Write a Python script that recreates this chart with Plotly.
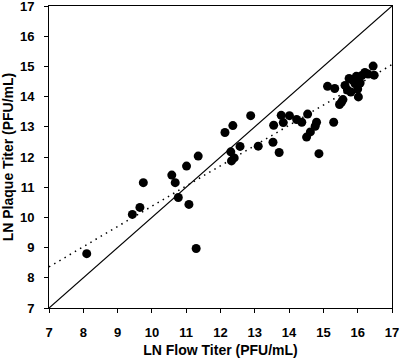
import plotly.graph_objects as go

# Data
flow_titer = [8.10, 9.43, 9.65, 9.75, 10.58, 10.68, 10.77, 11.08, 11.01, 11.35, 11.29,
              12.13, 12.36, 12.88, 12.30, 12.57, 12.32, 12.40, 13.10, 13.55, 13.53, 13.71,
              13.77, 13.83, 14.01, 14.22, 14.37, 14.54, 14.51, 14.62, 14.80, 14.76, 14.87,
              15.30, 15.12, 15.33, 15.47, 15.57, 15.53, 15.63, 15.70, 15.80, 16.02, 15.85,
              15.96, 16.12, 16.21, 16.45, 16.48, 16.07, 15.92, 15.75, 16.30, 16.00]
plaque_titer = [8.80, 10.10, 10.33, 11.15, 11.40, 11.15, 10.66, 10.43, 11.70, 12.03, 8.97,
                12.81, 13.04, 13.37, 12.17, 12.35, 11.87, 11.97, 12.36, 13.05, 12.49, 12.15,
                13.38, 13.14, 13.37, 13.24, 13.15, 13.42, 12.66, 12.83, 13.15, 13.02, 12.11,
                13.15, 14.34, 14.27, 13.74, 13.90, 13.82, 14.37, 14.22, 14.15, 13.99, 14.55,
                14.67, 14.70, 14.80, 15.01, 14.71, 14.45, 14.43, 14.60, 14.75, 14.25]

axis_range = [7, 17]
tick_values = [7, 8, 9, 10, 11, 12, 13, 14, 15, 16, 17]
fit_slope = 0.67
fit_intercept = 3.67

x_title = "LN Flow Titer (PFU/mL)"
y_title = "LN Plaque Titer (PFU/mL)"

fit_x = axis_range
fit_y = [fit_slope * v + fit_intercept for v in fit_x]

fig = go.Figure()
fig.add_trace(go.Scatter(x=axis_range, y=axis_range, mode="lines",
                         line=dict(color="black", width=1.2), showlegend=False,
                         hoverinfo="skip"))
fig.add_trace(go.Scatter(x=fit_x, y=fit_y, mode="lines",
                         line=dict(color="black", width=1.5, dash="1.5px,4.5px"),
                         showlegend=False, hoverinfo="skip"))
fig.add_trace(go.Scatter(x=flow_titer, y=plaque_titer, mode="markers",
                         marker=dict(color="black", size=9, line=dict(width=0)),
                         showlegend=False))

font_family = "Liberation Sans, Arial, sans-serif"
axis_common = dict(
    range=axis_range, tickvals=tick_values, showgrid=False, zeroline=False,
    showline=True, linecolor="black", linewidth=1, mirror=True,
    ticks="outside", ticklen=4, tickcolor="black", tickwidth=1,
    automargin=False, ticklabeloverflow="allow",
    tickfont=dict(family=font_family, size=13, color="black", weight="bold"),
)
title_font = dict(family=font_family, size=14, color="black", weight="bold")
fig.update_layout(
    width=400, height=359,
    margin=dict(l=49, r=8, t=6, b=51),
    plot_bgcolor="white", paper_bgcolor="white",
    xaxis=dict(**axis_common, ticklabelstandoff=8,
               title=dict(text=x_title, standoff=6, font=title_font)),
    yaxis=dict(**axis_common, ticklabelstandoff=7,
               title=dict(text=y_title, standoff=6, font=title_font)),
)
fig.write_html("out.html", config={"displayModeBar": False},
               post_script="document.body.style.margin='0';document.body.style.overflow='hidden';")
